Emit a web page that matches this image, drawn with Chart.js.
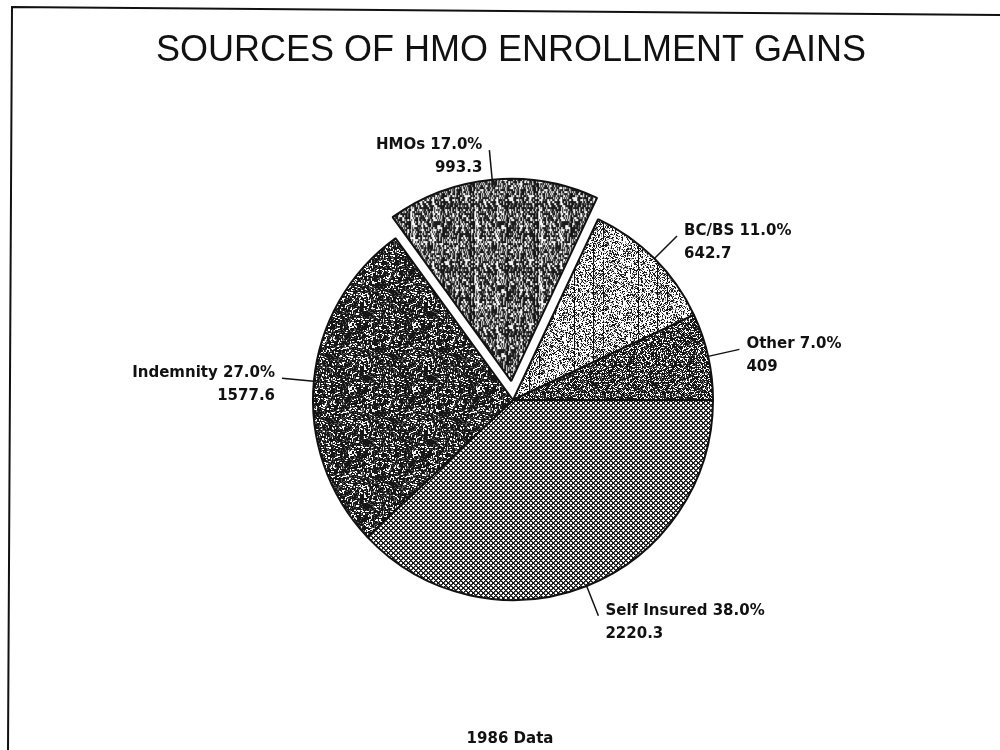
<!DOCTYPE html>
<html>
<head>
<meta charset="utf-8">
<title>Sources of HMO Enrollment Gains</title>
<script src="https://cdn.jsdelivr.net/npm/chart.js@4.4.1/dist/chart.umd.min.js"></script>
<style>
    html, body { margin: 0; padding: 0; background: #fff; }
    #wrap { width: 1000px; height: 750px; }
</style>
</head>
<body>
<div id="wrap"><canvas id="myChart" width="1000" height="750"></canvas></div>
<script>
// Chart data (1986 data)
const categories = ['Self Insured', 'Indemnity', 'HMOs', 'BC/BS', 'Other'];
const gains = [2220.3, 1577.6, 993.3, 642.7, 409];
const chartTitle = 'SOURCES OF HMO ENROLLMENT GAINS';
const footNote = '1986 Data';

// small deterministic integer hash, used for the scanned-paper textures
function hash(x, y, s) {
    var h = (x * 374761393 + y * 668265263 + s * 982451653) | 0;
    h = Math.imul(h ^ (h >>> 13), 1274126177);
    h = h ^ (h >>> 16);
    return (h >>> 0) / 4294967296;
}

function makePattern(size, paint) {
    var tile = document.createElement('canvas');
    tile.width = size;
    tile.height = size;
    var t = tile.getContext('2d');
    paint(t, size);
    return document.createElement('canvas').getContext('2d').createPattern(tile, 'repeat');
}

function px(t, x, y, c, w, h) {
    t.fillStyle = c;
    t.fillRect(x, y, w || 1, h || w || 1);
}

// Self insured - crosshatch
var crossHatch = makePattern(5, function (t, n) {
    t.fillStyle = '#fff';
    t.fillRect(0, 0, n, n);
    for (var x = 0; x < n; x++) {
        for (var y = 0; y < n; y++) {
            var a = (x + y) % 5, b = ((x - y) + 10) % 5;
            if (a === 0 || b === 0) px(t, x, y, '#111');
            else if (a === 1 || b === 1) px(t, x, y, '#555');
        }
    }
});

// Indemnity - dark speckle
var darkSpeckle = makePattern(64, function (t, n) {
    t.fillStyle = '#161616';
    t.fillRect(0, 0, n, n);
    for (var x = 0; x < n; x++) {
        for (var y = 0; y < n; y++) {
            var h = hash(x, y, 1);
            if (h < 0.07) px(t, x, y, '#fff', 2, 1);
            else if (h < 0.12) px(t, x, y, '#eee', 1, 2);
            else if (h < 0.3) px(t, x, y, '#5a5a5a');
        }
    }
});

// HMOs - grey with vertical streaks
var streaks = makePattern(64, function (t, n) {
    for (var x = 0; x < n; x++) {
        var col = hash(x, 0, 9);
        for (var y = 0; y < n; y += 2) {
            var h = hash(x, y, 2);
            var c = h < 0.3 ? '#f4f4f4' : (h < 0.42 ? '#777' : '#1c1c1c');
            if (col < 0.12) c = (hash(x, y, 3) < 0.75 ? '#fff' : '#333');
            else if (col > 0.9) c = '#111';
            px(t, x, y, c, 1, 2);
        }
    }
});

// BC/BS - light speckle with a few vertical lines
var lightSpeckle = makePattern(64, function (t, n) {
    for (var x = 0; x < n; x++) {
        var col = hash(x, 0, 11);
        for (var y = 0; y < n; y++) {
            var h = hash(x, y, 4);
            var c = h < 0.55 ? '#fff' : (h < 0.68 ? '#999' : '#1a1a1a');
            if (col > 0.93 && hash(x, y, 5) < 0.85) c = '#111';
            px(t, x, y, c);
        }
    }
});

// Other - dark mesh
var darkMesh = makePattern(60, function (t, n) {
    for (var x = 0; x < n; x++) {
        for (var y = 0; y < n; y++) {
            var h = hash(x, y, 6);
            var c = h < 0.2 ? '#fff' : (h < 0.34 ? '#666' : '#161616');
            if ((x + y) % 6 === 0 && h < 0.5) c = '#fff';
            px(t, x, y, c);
        }
    }
});

var fills = [crossHatch, darkSpeckle, streaks, lightSpeckle, darkMesh];

// scanned page frame, title and footnote
const pagePlugin = {
    id: 'page',
    beforeDraw(chart) {
        var c = chart.ctx;
        c.save();
        c.fillStyle = '#fff';
        c.fillRect(0, 0, chart.width, chart.height);
        c.strokeStyle = '#111';
        c.lineWidth = 2;
        c.beginPath();
        c.moveTo(1000, 15);
        c.lineTo(12, 7);
        c.lineTo(8, 750);
        c.stroke();

        c.fillStyle = '#111';
        c.textAlign = 'center';
        c.textBaseline = 'alphabetic';
        c.font = '36px "Liberation Sans", Arial, sans-serif';
        c.fillText(chartTitle, 511, 61);
        c.font = 'bold 15px "DejaVu Sans", sans-serif';
        c.fillText(footNote, 510, 743);
        c.restore();
    }
};

// callout labels with leader lines
const calloutPlugin = {
    id: 'callouts',
    afterDatasetsDraw(chart) {
        var c = chart.ctx;
        var meta = chart.getDatasetMeta(0);
        var total = gains.reduce(function (a, b) { return a + b; }, 0);
        c.save();
        c.strokeStyle = '#111';
        c.fillStyle = '#111';
        c.lineWidth = 1.5;
        c.font = 'bold 15px "DejaVu Sans", sans-serif';
        c.textBaseline = 'middle';
        meta.data.forEach(function (arc, i) {
            var p = arc.getProps(['x', 'y', 'startAngle', 'endAngle', 'outerRadius'], true);
            // chart.js v4 moves an arc by offset / 4
            var off = (arc.options.offset || 0) / 4;
            var mid = (p.startAngle + p.endAngle) / 2;
            var cos = Math.cos(mid), sin = Math.sin(mid);
            var r0 = p.outerRadius + off;
            var r1 = r0 + 32;
            var x0 = p.x + cos * r0, y0 = p.y + sin * r0;
            var x1 = p.x + cos * r1, y1 = p.y + sin * r1;
            c.beginPath();
            c.moveTo(x0, y0);
            c.lineTo(x1, y1);
            c.stroke();

            var line1 = categories[i] + ' ' + (gains[i] / total * 100).toFixed(1) + '%';
            var line2 = String(gains[i]);
            var tx, ty = y1 - 5;
            if (cos > 0) {
                c.textAlign = 'left';
                tx = x1 + 7;
            } else {
                c.textAlign = 'right';
                tx = x1 - 7;
            }
            c.fillText(line1, tx, ty);
            c.fillText(line2, tx, ty + 23);
        });
        c.restore();
    }
};

var ctx = document.getElementById('myChart').getContext('2d');
var myChart = new Chart(ctx, {
    type: 'pie',
    data: {
        labels: categories,
        datasets: [{
            data: gains,
            backgroundColor: fills,
            borderColor: '#111',
            borderWidth: 2,
            // the HMOs slice is pulled out of the pie (v4 draws offset / 4)
            offset: function (c) { return categories[c.dataIndex] === 'HMOs' ? 76 : 0; }
        }]
    },
    options: {
        responsive: false,
        animation: false,
        events: [],
        rotation: 90,
        radius: 200,
        layout: {
            padding: { left: 26, right: 0, top: 50, bottom: 0 }
        },
        plugins: {
            legend: { display: false },
            tooltip: { enabled: false },
            title: { display: false }
        }
    },
    plugins: [pagePlugin, calloutPlugin]
});
</script>
</body>
</html>
